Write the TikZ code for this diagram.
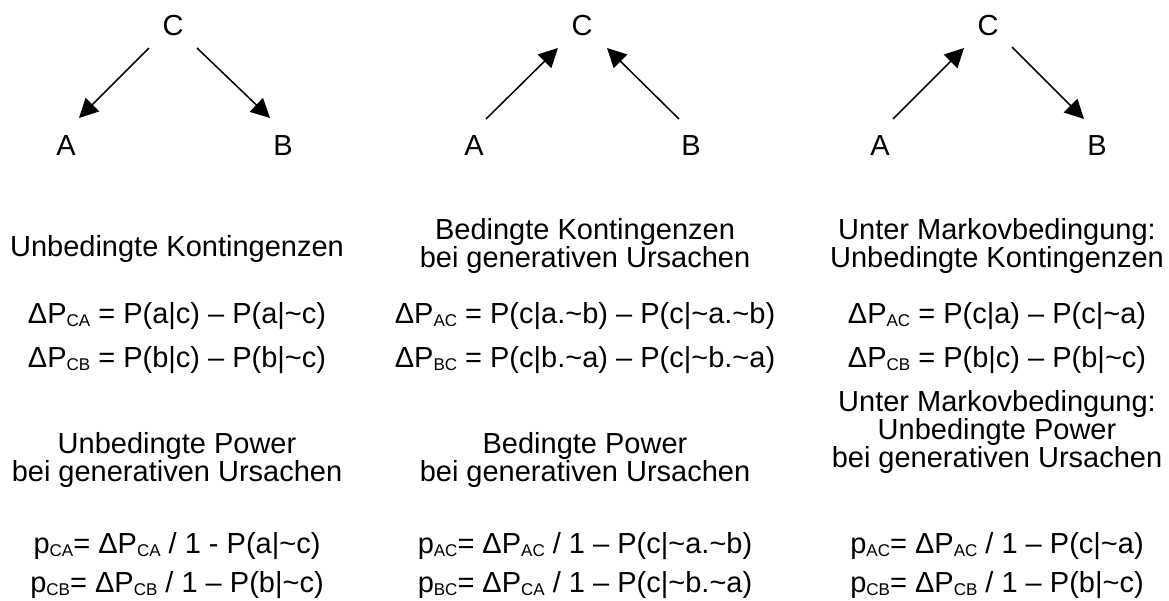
\documentclass[tikz,border=0pt]{standalone}
\usepackage{fontspec}
\setmainfont{Liberation Sans}
\usetikzlibrary{arrows.meta,calc}
% small lowered index letters, as in P_CA
\newcommand\lowidx[1]{\raisebox{-0.11em}{\fontsize{17}{17}\selectfont #1}}
\newcommand\tld{\textasciitilde}
\begin{document}
\begin{tikzpicture}[x=1pt,y=-1pt,
  var/.style={font=\fontsize{29}{28}\selectfont, inner sep=0pt},
  txt/.style={font=\fontsize{29}{28}\selectfont, inner sep=0pt, anchor=base},
  arr/.style={line width=1.5pt, -{Triangle[length=19pt,width=19pt]}}]
\useasboundingbox (0,0) rectangle (1169,600);

% ---- causal graphs ----
% common cause
\node[var] (C1) at (173,26) {C};
\node[var] (A1) at (66,146) {A};
\node[var] (B1) at (283,146) {B};
\draw[arr] ($(C1)+(-24,22)$) -- ($(A1)+(13,-28)$);
\draw[arr] ($(C1)+(24,22)$) -- ($(B1)+(-13,-28)$);

% common effect
\node[var] (C2) at (582,26) {C};
\node[var] (A2) at (474,146) {A};
\node[var] (B2) at (691,146) {B};
\draw[arr] ($(A2)+(12,-27)$) -- ($(C2)+(-24,22)$);
\draw[arr] ($(B2)+(-12,-27)$) -- ($(C2)+(25,22)$);

% causal chain
\node[var] (C3) at (988,26) {C};
\node[var] (A3) at (880,146) {A};
\node[var] (B3) at (1097,146) {B};
\draw[arr] ($(A3)+(13,-27)$) -- ($(C3)+(-24,22)$);
\draw[arr] ($(C3)+(24,21)$) -- ($(B3)+(-13,-27)$);

% ---- left column ----
\node[txt] (k1) at (177,256) {Unbedingte Kontingenzen};
\node[txt] (d1a) at (177,323) {ΔP\lowidx{CA} = P(a|c) – P(a|\tld c)};
\node[txt] (d1b) at (177,367) {ΔP\lowidx{CB} = P(b|c) – P(b|\tld c)};
\node[txt] (w1a) at (177,453) {Unbedingte Power};
\node[txt] (w1b) at (177,481) {bei generativen Ursachen};
\node[txt] (p1a) at (177,553) {p\lowidx{CA}= ΔP\lowidx{CA} / 1 - P(a|\tld c)};
\node[txt] (p1b) at (177,592) {p\lowidx{CB}= ΔP\lowidx{CB} / 1 – P(b|\tld c)};

% ---- middle column ----
\node[txt] (k2a) at (585,239) {Bedingte Kontingenzen};
\node[txt] (k2b) at (585,267) {bei generativen Ursachen};
\node[txt] (d2a) at (585,323) {ΔP\lowidx{AC} = P(c|a.\tld b) – P(c|\tld a.\tld b)};
\node[txt] (d2b) at (585,367) {ΔP\lowidx{BC} = P(c|b.\tld a) – P(c|\tld b.\tld a)};
\node[txt] (w2a) at (585,453) {Bedingte Power};
\node[txt] (w2b) at (585,481) {bei generativen Ursachen};
\node[txt] (p2a) at (585,553) {p\lowidx{AC}= ΔP\lowidx{AC} / 1 – P(c|\tld a.\tld b)};
\node[txt] (p2b) at (585,592) {p\lowidx{BC}= ΔP\lowidx{CA} / 1 – P(c|\tld b.\tld a)};

% ---- right column ----
\node[txt] (k3a) at (997,239) {Unter Markovbedingung:};
\node[txt] (k3b) at (997,267) {Unbedingte Kontingenzen};
\node[txt] (d3a) at (997,323) {ΔP\lowidx{AC} = P(c|a) – P(c|\tld a)};
\node[txt] (d3b) at (997,367) {ΔP\lowidx{CB} = P(b|c) – P(b|\tld c)};
\node[txt] (w3a) at (997,411) {Unter Markovbedingung:};
\node[txt] (w3b) at (997,439) {Unbedingte Power};
\node[txt] (w3c) at (997,467) {bei generativen Ursachen};
\node[txt] (p3a) at (997,553) {p\lowidx{AC}= ΔP\lowidx{AC} / 1 – P(c|\tld a)};
\node[txt] (p3b) at (997,592) {p\lowidx{CB}= ΔP\lowidx{CB} / 1 – P(b|\tld c)};
\end{tikzpicture}
\end{document}
